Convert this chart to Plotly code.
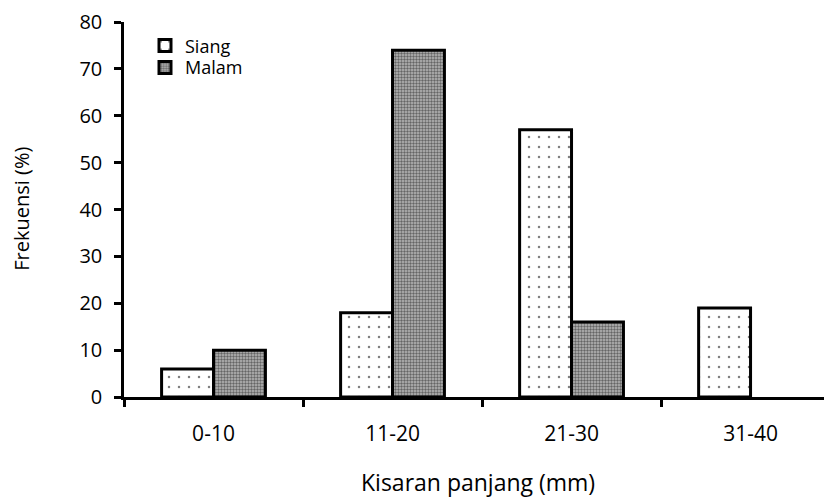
import plotly.graph_objects as go

categories = ["0-10", "11-20", "21-30", "31-40"]
siang = [6, 18, 57, 19]
malam = [10, 74, 16, None]
y_ticks = [0, 10, 20, 30, 40, 50, 60, 70, 80]

FONT = "Open Sans"

# page body has an 8px margin: the figure is offset by (8, 8)
OFF = 8
W, H = 832 - OFF, 499 - OFF
L, T = 124 - OFF, 20 - OFF
B = H - (397.5 - OFF)
pw, ph = W - L, H - T - B


def px_to_paper(px, py):
    return (px - OFF - L) / pw, (H - B - (py - OFF)) / ph


fig = go.Figure()
fig.add_trace(go.Bar(
    x=categories, y=siang, name="Siang", legend="legend",
    marker=dict(color="white", line=dict(color="black", width=3),
                pattern=dict(shape=".", fgcolor="black", bgcolor="white",
                             size=10, solidity=0.05, fillmode="overlay")),
))
fig.add_trace(go.Bar(
    x=categories, y=malam, name="Malam", legend="legend2",
    marker=dict(color="white", line=dict(color="black", width=3),
                pattern=dict(shape=".", fgcolor="#111111", bgcolor="#b8b8b8",
                             size=3, solidity=0.5, fillmode="overlay")),
))

l1 = px_to_paper(145, 44)
l2 = px_to_paper(145, 66)
xt = px_to_paper(478, 483)
yt = px_to_paper(22, 208)

legend_common = dict(xanchor="left", yanchor="middle", bgcolor="rgba(0,0,0,0)",
                     font=dict(size=18), itemwidth=30, borderwidth=0)

fig.update_layout(
    width=W, height=H,
    paper_bgcolor="white", plot_bgcolor="white",
    margin=dict(l=L, r=0, t=T, b=B, pad=0),
    barmode="group", bargap=0.42, bargroupgap=0,
    font=dict(family=FONT, size=20, color="black"),
    showlegend=True,
    legend=dict(x=l1[0], y=l1[1], **legend_common),
    legend2=dict(x=l2[0], y=l2[1], **legend_common),
    xaxis=dict(type="category", range=[-0.5, 3.455],
               showline=True, linecolor="black", linewidth=2.5,
               ticks="outside", tickson="boundaries", ticklen=7, tickwidth=2.5,
               tickcolor="black", showgrid=False, zeroline=False,
               tickfont=dict(size=21), ticklabelstandoff=16),
    yaxis=dict(range=[0, 80], tickvals=y_ticks,
               showline=True, linecolor="black", linewidth=2.5,
               ticks="outside", ticklen=7, tickwidth=2.5, tickcolor="black",
               showgrid=False, zeroline=False, tickfont=dict(size=20),
               ticklabelstandoff=8, ticklabeloverflow="allow"),
)
fig.add_annotation(text="Kisaran panjang (mm)", x=xt[0], y=xt[1],
                   xref="paper", yref="paper", showarrow=False,
                   xanchor="center", yanchor="middle", font=dict(size=23))
fig.add_annotation(text="Frekuensi (%)", x=yt[0], y=yt[1], textangle=-90,
                   xref="paper", yref="paper", showarrow=False,
                   xanchor="center", yanchor="middle", font=dict(size=20))

fig.write_html("out.html")
